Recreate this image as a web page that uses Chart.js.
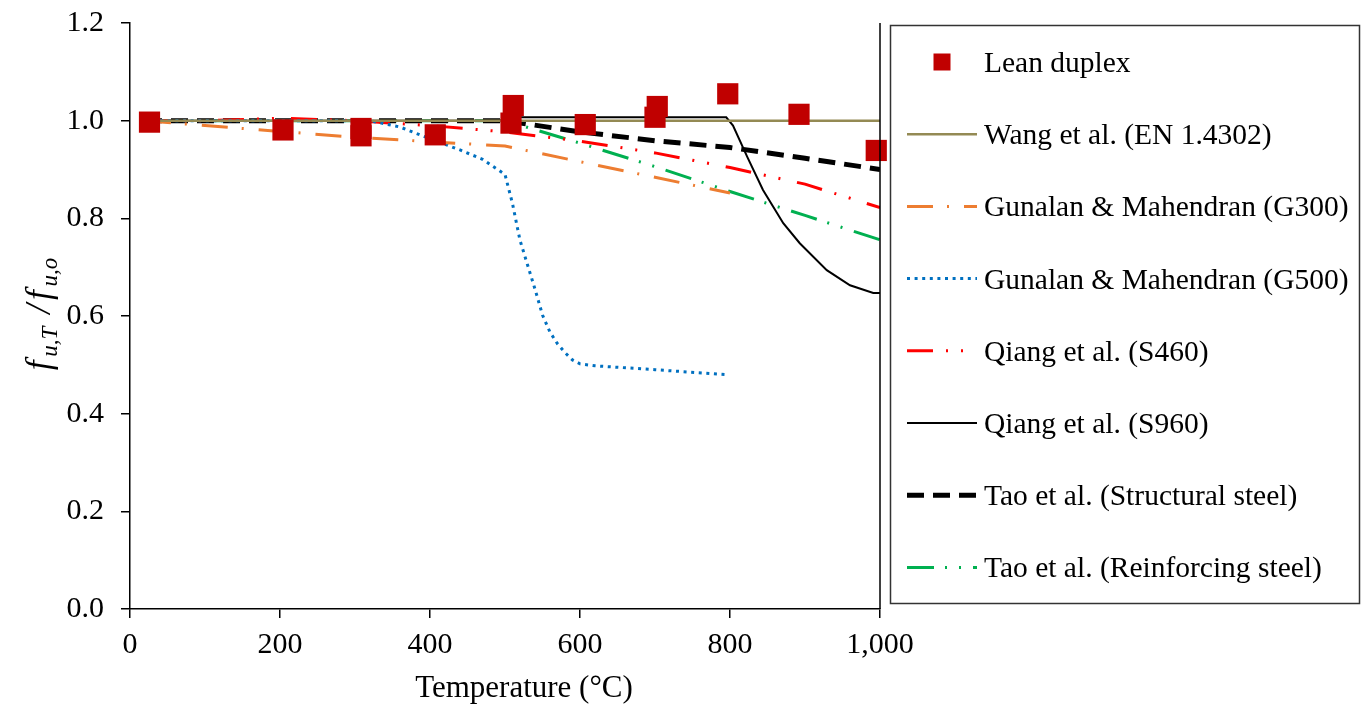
<!DOCTYPE html>
<html>
<head>
<meta charset="utf-8">
<script src="https://cdn.jsdelivr.net/npm/chart.js@4.4.0/dist/chart.umd.min.js"></script>
<style>
  html, body { margin: 0; padding: 0; background: #fff; }
  #wrap { width: 1371px; height: 706px; position: relative; }
</style>
</head>
<body>
<div id="wrap"><canvas id="chart"></canvas></div>
<script>
// Ultimate strength retention factor f_u,T / f_u,o versus temperature

// Test results: lean duplex stainless steel
const leanTemp  = [26, 204, 308, 308, 407, 511, 508, 607, 703, 700, 797, 892, 995];
const leanRatio = [0.997, 0.981, 0.984, 0.969, 0.971, 1.031, 0.995, 0.992, 1.029, 1.007, 1.055, 1.013, 0.939];

// Wang et al. (EN 1.4302)
const wangTemp  = [20, 1000];
const wangRatio = [1.0, 1.0];

// Gunalan & Mahendran (G300)
const g300Temp  = [20, 100, 200, 300, 400, 500, 600, 700, 800];
const g300Ratio = [1.0, 0.99, 0.978, 0.966, 0.957, 0.948, 0.916, 0.884, 0.852];

// Gunalan & Mahendran (G500)
const g500Temp  = [20, 320, 360, 390, 440, 470, 500, 510, 520, 530, 540, 550, 560, 570, 580, 590, 600, 620, 700, 795];
const g500Ratio = [1.0, 1.0, 0.987, 0.969, 0.94, 0.921, 0.89, 0.83, 0.755, 0.705, 0.655, 0.602, 0.567, 0.543, 0.525, 0.51, 0.502, 0.498, 0.49, 0.48];

// Qiang et al. (S460)
const s460Temp  = [20, 100, 200, 300, 400, 500, 600, 700, 800, 900, 1000];
const s460Ratio = [1.0, 1.0, 1.005, 1.0, 0.99, 0.977, 0.958, 0.934, 0.904, 0.87, 0.822];

// Qiang et al. (S960)
const s960Temp  = [20, 500, 510, 795, 804, 823, 844, 871, 893, 929, 960, 991, 1000];
const s960Ratio = [1.0, 1.0, 1.007, 1.007, 0.99, 0.926, 0.858, 0.79, 0.749, 0.694, 0.663, 0.647, 0.647];

// Tao et al. (Structural steel)
const taoSTemp  = [20, 100, 200, 300, 400, 500, 600, 700, 800, 900, 1000];
const taoSRatio = [1.0, 1.0, 1.0, 1.0, 1.0, 1.0, 0.977, 0.959, 0.945, 0.923, 0.9];

// Tao et al. (Reinforcing steel)
const taoRTemp  = [20, 100, 200, 300, 400, 500, 600, 700, 800, 900, 1000];
const taoRRatio = [1.0, 1.0, 1.0, 1.0, 1.0, 1.0, 0.954, 0.906, 0.855, 0.806, 0.756];

// Axis ticks
const xTicks = [0, 200, 400, 600, 800, 1000];
const yTicks = [0.0, 0.2, 0.4, 0.6, 0.8, 1.0, 1.2];

const SERIF = "'Liberation Serif', 'Times New Roman', serif";

function pairs(xs, ys) {
  return xs.map((x, i) => ({ x: x, y: ys[i] }));
}

function curve(label, xs, ys, color, width, dash) {
  return {
    label: label,
    data: pairs(xs, ys),
    showLine: true,
    borderColor: color,
    backgroundColor: color,
    borderWidth: width,
    borderDash: dash,
    borderCapStyle: 'butt',
    pointRadius: 0,
    pointHoverRadius: 0,
    tension: 0
  };
}

// Draws the boxed legend, the right frame line and the axis titles
const decorations = {
  id: 'decorations',
  afterDraw(chart) {
    const ctx = chart.ctx;
    const area = chart.chartArea;
    ctx.save();

    // right frame line of the plot area
    ctx.strokeStyle = '#000';
    ctx.lineWidth = 1.5;
    ctx.setLineDash([]);
    ctx.beginPath();
    ctx.moveTo(area.right, area.top);
    ctx.lineTo(area.right, area.bottom);
    ctx.stroke();

    // x axis title
    ctx.fillStyle = '#000';
    ctx.font = '31px ' + SERIF;
    ctx.textAlign = 'center';
    ctx.textBaseline = 'alphabetic';
    ctx.fillText('Temperature (°C)', 524, 697);

    // y axis title: f_{u,T} / f_{u,o}
    ctx.save();
    ctx.translate(42, 312);
    ctx.rotate(-Math.PI / 2);
    const big = 'italic 35px ' + SERIF;
    const small = 'italic 23px ' + SERIF;
    const parts = [
      { t: 'f', f: big, dy: 0 },
      { t: 'u,T', f: small, dy: 7 },
      { t: ' /', f: big, dy: 0 },
      { t: 'f', f: big, dy: 0 },
      { t: 'u,o', f: small, dy: 7 }
    ];
    let total = 0;
    parts.forEach(p => { ctx.font = p.f; p.w = ctx.measureText(p.t).width + 4; total += p.w; });
    let px = -total / 2;
    ctx.textAlign = 'left';
    parts.forEach(p => {
      ctx.font = p.f;
      ctx.fillText(p.t, px, 8 + p.dy);
      px += p.w;
    });
    ctx.restore();

    // legend box
    ctx.strokeStyle = '#333';
    ctx.lineWidth = 1.5;
    ctx.strokeRect(890.5, 25.5, 469, 578);

    const sampleL = 907, sampleR = 977, textX = 984;
    ctx.font = '29.5px ' + SERIF;
    ctx.textAlign = 'left';
    ctx.textBaseline = 'alphabetic';
    chart.data.datasets.forEach((ds, i) => {
      const y = 62 + i * 72.2;
      if (!ds.showLine) {
        ctx.fillStyle = ds.backgroundColor;
        ctx.fillRect(942 - 8.5, y - 8.5, 17, 17);
      } else {
        ctx.strokeStyle = ds.borderColor;
        ctx.lineWidth = ds.borderWidth;
        ctx.setLineDash(ds.borderDash || []);
        ctx.lineCap = 'butt';
        ctx.beginPath();
        ctx.moveTo(sampleL, y);
        ctx.lineTo(sampleR, y);
        ctx.stroke();
        ctx.setLineDash([]);
      }
      ctx.fillStyle = '#000';
      ctx.fillText(ds.label, textX, y + 10);
    });

    ctx.restore();
  }
};

const datasets = [
  {
    label: 'Lean duplex',
    data: pairs(leanTemp, leanRatio),
    showLine: false,
    pointStyle: 'rect',
    pointRadius: 15,
    pointHoverRadius: 15,
    backgroundColor: '#C00000',
    borderColor: '#C00000',
    borderWidth: 0,
    clip: false
  },
  curve('Wang et al. (EN 1.4302)', wangTemp, wangRatio, '#948A54', 2.5, []),
  curve('Gunalan & Mahendran (G300)', g300Temp, g300Ratio, '#ED7D31', 3, [26, 14, 2, 15]),
  curve('Gunalan & Mahendran (G500)', g500Temp, g500Ratio, '#0070C0', 3, [3, 4.6]),
  curve('Qiang et al. (S460)', s460Temp, s460Ratio, '#FF0000', 3, [26, 13, 2, 13, 2, 17]),
  curve('Qiang et al. (S960)', s960Temp, s960Ratio, '#000000', 2, []),
  curve('Tao et al. (Structural steel)', taoSTemp, taoSRatio, '#000000', 5, [17, 9]),
  curve('Tao et al. (Reinforcing steel)', taoRTemp, taoRRatio, '#00B050', 3, [27, 11, 2, 12, 2, 12])
];

new Chart(document.getElementById('chart'), {
  type: 'scatter',
  data: { datasets: datasets },
  options: {
    responsive: true,
    maintainAspectRatio: false,
    animation: false,
    events: [],
    layout: { padding: { left: 0, right: 491, top: 23, bottom: 0 } },
    plugins: {
      legend: { display: false },
      tooltip: { enabled: false }
    },
    scales: {
      x: {
        type: 'linear',
        min: xTicks[0],
        max: xTicks[xTicks.length - 1],
        afterBuildTicks(scale) { scale.ticks = xTicks.map(v => ({ value: v })); },
        afterFit(scale) { scale.height = 97; scale.paddingLeft = 0; scale.paddingRight = 0; },
        border: { display: true, color: '#000', width: 1.5 },
        grid: { drawOnChartArea: false, drawTicks: true, tickLength: 9, color: '#000', lineWidth: 1.5 },
        ticks: {
          color: '#000',
          padding: 9,
          font: { family: SERIF, size: 30 },
          maxRotation: 0,
          callback: v => v.toLocaleString('en-US')
        }
      },
      y: {
        type: 'linear',
        min: yTicks[0],
        max: yTicks[yTicks.length - 1],
        afterBuildTicks(scale) { scale.ticks = yTicks.map(v => ({ value: v })); },
        afterFit(scale) { scale.width = 130; scale.paddingTop = 0; scale.paddingBottom = 0; },
        border: { display: true, color: '#000', width: 1.5 },
        grid: { drawOnChartArea: false, drawTicks: true, tickLength: 9, color: '#000', lineWidth: 1.5 },
        ticks: {
          color: '#000',
          padding: 17,
          font: { family: SERIF, size: 30 },
          callback: v => Number(v).toFixed(1)
        }
      }
    }
  },
  plugins: [decorations]
});
</script>
</body>
</html>
